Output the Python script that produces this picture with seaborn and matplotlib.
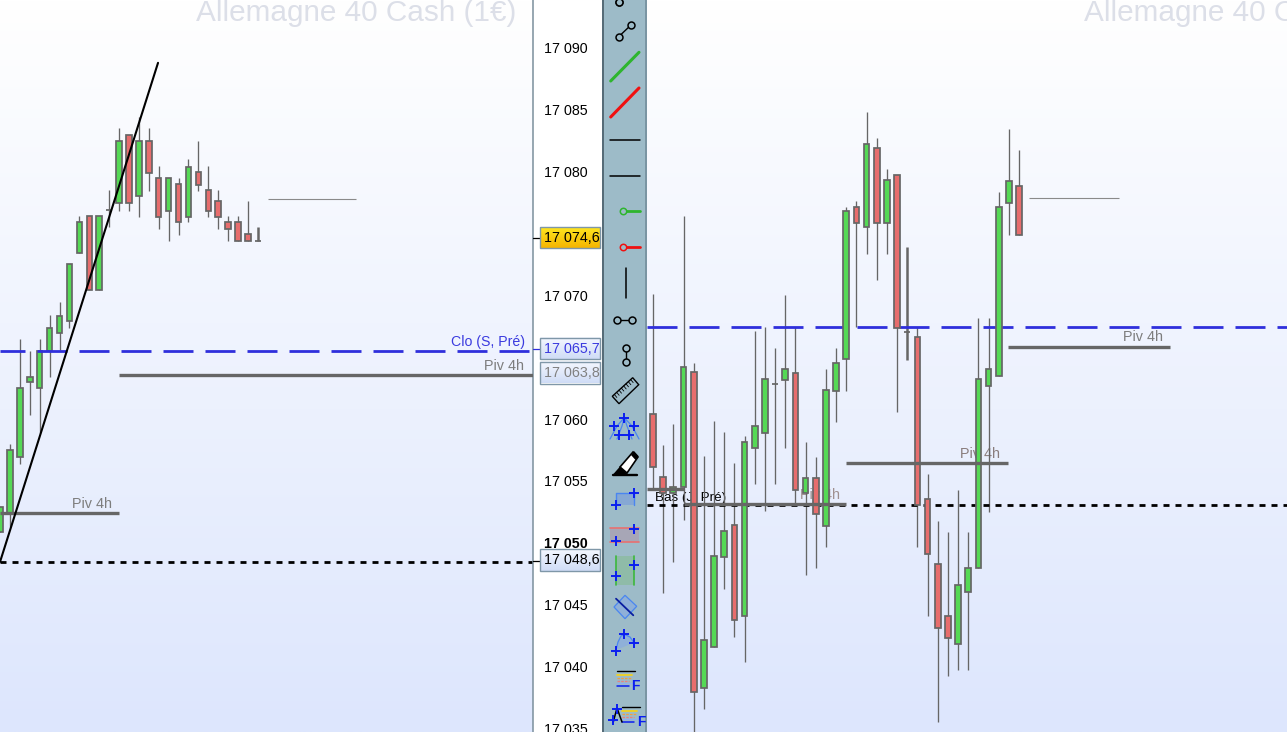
import numpy as np
import pandas as pd
import matplotlib
matplotlib.use('Agg')
import matplotlib.pyplot as plt
from matplotlib.colors import LinearSegmentedColormap
from matplotlib.patches import Polygon, Rectangle
import seaborn as sns

# left chart candles
left_open = [17050.9, 17052.4, 17056.9, 17063.0, 17062.5, 17065.5, 17067.0, 17067.9, 17073.4,
             17076.4, 17070.4, 17076.9, 17077.5, 17083.0, 17078.0, 17082.5, 17079.5, 17076.8,
             17079.0, 17076.3, 17080.0, 17078.5, 17077.6, 17075.9, 17075.9, 17075.0, 17074.4]
left_close = [17052.9, 17057.5, 17062.5, 17063.4, 17065.5, 17067.4, 17068.3, 17072.5, 17075.9,
              17070.4, 17076.4, 17076.9, 17082.5, 17077.5, 17082.5, 17079.9, 17076.3, 17079.5,
              17075.9, 17080.4, 17078.9, 17076.8, 17076.3, 17075.4, 17074.4, 17074.4, 17074.4]
left_high = [17052.9, 17058.0, 17066.5, 17065.5, 17066.5, 17068.4, 17069.5, 17072.5, 17076.4,
             17076.4, 17076.4, 17078.5, 17083.5, 17083.0, 17084.4, 17083.5, 17080.5, 17079.5,
             17079.5, 17081.0, 17082.5, 17080.5, 17078.5, 17076.4, 17076.4, 17077.6, 17075.5]
left_low = [17050.9, 17051.3, 17056.4, 17060.3, 17058.9, 17063.4, 17065.6, 17067.4, 17073.4,
            17070.4, 17070.4, 17075.5, 17076.8, 17076.8, 17076.3, 17078.4, 17075.4, 17074.4,
            17074.9, 17075.9, 17078.4, 17076.3, 17075.4, 17074.4, 17074.4, 17074.4, 17074.4]

# right chart candles
right_open = [17057.3, 17051.3, 17049.7, 17050.3, 17061.4, 17031.0, 17034.9, 17043.6, 17046.7,
              17037.9, 17054.1, 17055.5, 17060.2, 17060.6, 17061.3, 17049.7, 17051.2, 17046.6,
              17059.5, 17062.6, 17077.2, 17075.3, 17082.9, 17075.7, 17080.3, 17065.2, 17064.7,
              17049.2, 17042.9, 17037.9, 17035.2, 17040.2, 17042.5, 17060.0, 17061.0, 17077.6,
              17079.3]
right_close = [17052.2, 17049.7, 17050.3, 17061.9, 17030.6, 17035.6, 17043.7, 17046.1, 17037.5,
               17054.6, 17056.2, 17060.7, 17060.2, 17061.7, 17050.0, 17051.2, 17047.7, 17059.6,
               17062.2, 17076.9, 17075.7, 17083.3, 17075.7, 17079.8, 17065.6, 17065.2, 17048.6,
               17043.9, 17036.8, 17035.8, 17040.9, 17042.5, 17060.7, 17061.7, 17077.2, 17079.7,
               17074.5]
right_high = [17068.9, 17054.4, 17056.4, 17076.4, 17062.2, 17053.3, 17056.7, 17055.6, 17052.6,
              17055.2, 17065.3, 17065.7, 17063.7, 17068.8, 17065.7, 17054.6, 17053.2, 17061.7,
              17063.7, 17077.2, 17077.8, 17086.4, 17083.9, 17080.9, 17080.3, 17073.4, 17065.7,
              17051.6, 17047.0, 17046.0, 17050.0, 17046.0, 17066.6, 17066.6, 17078.7, 17084.7,
              17082.7]
right_low = [17050.2, 17040.1, 17043.1, 17047.1, 17026.5, 17029.0, 17034.9, 17040.5, 17035.9,
             17033.5, 17050.6, 17048.0, 17050.6, 17054.1, 17048.8, 17041.9, 17042.5, 17044.5,
             17056.6, 17059.5, 17065.7, 17072.7, 17070.2, 17072.7, 17057.5, 17062.5, 17044.5,
             17037.9, 17027.7, 17032.1, 17032.7, 17032.7, 17042.5, 17047.9, 17061.0, 17074.5,
             17074.5]

# price levels: (start bar, end bar, price)
left_piv = [(0, 12, 17052.4), (12, 53.7, 17063.6)]
left_ref = (27.0, 35.9, 17077.8)
left_clo = 17065.5
left_bas = 17048.45
left_trend_x = [0, 15.93]
left_trend_y = [17048.45, 17088.8]

right_piv = [(-0.6, 3.05, 17050.1), (3.05, 18.98, 17048.7), (18.98, 34.9, 17052.6), (34.9, 50.84, 17063.8)]
right_ref = (36.97, 45.82, 17078.1)
right_clo = 17065.7
right_bas = 17048.6

tick_prices = [17035, 17040, 17045, 17050, 17055, 17060, 17065, 17070, 17075, 17080, 17085, 17090]
tick_labels = ['17 035', '17 040', '17 045', '17 050', '17 055', '17 060', '', '17 070', '', '17 080', '17 085', '17 090']

W, H = 1287, 732
GREEN, RED, EDGE = '#55d955', '#e76d6d', '#666666'
BLUE, LEVEL = '#2f2fdc', '#666666'

sns.set_theme(style='white')
plt.rcParams['font.family'] = ['Liberation Sans', 'DejaVu Sans']

fig = plt.figure(figsize=(W / 100, H / 100), dpi=100, facecolor='white')
bg_cmap = LinearSegmentedColormap.from_list('bg', ['#ffffff', '#dde6fd'])
grad = np.linspace(0, 1, 256)[:, None]


def panel(x0, x1):
    ax = fig.add_axes([x0 / W, 0, (x1 - x0) / W, 1])
    ax.imshow(grad, cmap=bg_cmap, aspect='auto', extent=(0, 1, 0, 1), transform=ax.transAxes, zorder=0)
    return ax


def hline(ax, x0, x1, y, color=LEVEL, lw=2.4, z=4, ls='-'):
    sns.lineplot(x=[x0, x1], y=[y, y], ax=ax, color=color, lw=lw, zorder=z, linestyle=ls,
                 estimator=None, solid_capstyle='butt', dash_capstyle='butt')


def candles(ax, o, c, h, l, thick=()):
    o, c, h, l = map(np.array, (o, c, h, l))
    idx = np.arange(len(o))
    thin = [i for i in idx if i not in thick]
    for bars, lw in ((thin, 0.95), (list(thick), 1.8)):
        if not bars:
            continue
        wicks = pd.DataFrame({'bar': bars + bars, 'price': np.r_[l[bars], h[bars]]})
        sns.lineplot(data=wicks, x='bar', y='price', units='bar', estimator=None, sort=False,
                     color=EDGE, lw=lw, zorder=2, solid_capstyle='butt', ax=ax)
    colors = [RED if close < op else GREEN for op, close in zip(o, c)]
    ax.bar(idx, c - o, bottom=o, width=0.56, color=colors, edgecolor=EDGE, linewidth=1.25, zorder=3)


# left chart
ax = panel(0, 532.5)
candles(ax, left_open, left_close, left_high, left_low, thick=(26,))
for x0, x1, y in left_piv:
    hline(ax, x0, x1, y)
hline(ax, *left_ref, color='#8a8a8a', lw=0.8)
hline(ax, 0, 53.7, left_clo, color=BLUE, lw=2.0, z=5, ls=(1.8, (10.8, 4.32)))
hline(ax, 0, 53.7, left_bas, color='black', lw=2.0, z=2.5, ls=(0, (2.16, 2.16)))
sns.lineplot(x=left_trend_x, y=left_trend_y, ax=ax, color='black', lw=1.5, zorder=6, estimator=None)
ax.text(52.8, 17064.3, 'Piv 4h', ha='right', va='center', fontsize=10.4, color='#7d7d7d', zorder=1)
ax.text(52.9, 17066.2, 'Clo (S, Pré)', ha='right', va='center', fontsize=10.2, color='#3a3adf', zorder=1)
ax.text(11.3, 17053.1, 'Piv 4h', ha='right', va='center', fontsize=10.4, color='#7d7d7d', zorder=1)
ax.set_xlim(0, 53.68)
ax.set_ylim(17090 - 684 / 12.37, 17090 + 48 / 12.37)
ax.set_xticks([])
ax.set_xlabel('')
ax.set_ylabel('')
ax.yaxis.tick_right()
ax.set_yticks(tick_prices)
ax.set_yticklabels(tick_labels)
ax.tick_params(axis='y', length=3.8, width=0.8, color='#7b8f9c', pad=4.5, labelsize=10.3, labelcolor='black')
for lab in ax.get_yticklabels():
    if lab.get_text() == '17 050':
        lab.set_fontweight('bold')
sns.despine(ax=ax, left=True, bottom=True, top=True, right=False)
ax.spines['right'].set_color('#7b8f9c')
ax.spines['right'].set_linewidth(1.1)

# right chart
ax2 = panel(647, W)
candles(ax2, right_open, right_close, right_high, right_low, thick=(25,))
for x0, x1, y in right_piv:
    hline(ax2, x0, x1, y)
hline(ax2, *right_ref, color='#8a8a8a', lw=0.8)
hline(ax2, -0.6, 62.4, right_clo, color=BLUE, lw=2.0, z=2.5, ls=(0, (10.8, 4.32)))
hline(ax2, -0.6, 62.4, right_bas, color='black', lw=2.0, z=2.5, ls=(0, (2.16, 2.16)))
ax2.text(50.15, 17064.7, 'Piv 4h', ha='right', va='center', fontsize=10.4, color='#7d7d7d', zorder=1)
ax2.text(34.1, 17053.5, 'Piv 4h', ha='right', va='center', fontsize=10.4, color='#8a7d7d', zorder=1)
ax2.text(18.4, 17049.5, 'Piv 4h', ha='right', va='center', fontsize=10.4, color='#a09090', zorder=1)
ax2.text(0.2, 17049.3, 'Bas (J. Pré)', ha='left', va='center', fontsize=9.6, color='black', zorder=1)
ax2.set_xlim(-0.59, 62.34)
ax2.set_ylim(17065.7 - 405 / 10.4, 17065.7 + 327 / 10.4)
ax2.axis('off')

# overlay in pixels: titles, value boxes and the drawing toolbar
ov = fig.add_axes([0, 0, 1, 1], facecolor='none')
ov.axis('off')
ov.text(516, 21, 'Allemagne 40 Cash (1€)', ha='right', va='baseline', fontsize=21.4, color='#dcdfe8')
ov.text(1084, 21, 'Allemagne 40 Cash (1€)', ha='left', va='baseline', fontsize=21.4, color='#dcdfe8', clip_on=True)


def value_box(y0, y1, top, bottom, label, color):
    cm = LinearSegmentedColormap.from_list('b', [top, bottom])
    ov.imshow(grad, cmap=cm, aspect='auto', extent=(540, 600, y1, y0), zorder=3)
    ov.add_patch(Rectangle((540, y0), 60, y1 - y0, fill=False, ec='#7f97a8', lw=1.0, zorder=4))
    ov.text(543.5, (y0 + y1) / 2 + 0.5, label, ha='left', va='center', fontsize=10.3, color=color, zorder=5)


value_box(227, 248, '#ffe620', '#f5b400', '17 074,6', 'black')
value_box(337.5, 359, '#f5f8ff', '#cfdcf6', '17 065,7', '#3a3adf')
value_box(362, 383.5, '#f5f8ff', '#cfdcf6', '17 063,8', '#808080')
value_box(549, 571, '#f5f8ff', '#cfdcf6', '17 048,6', 'black')
ov.plot([533, 540], [238, 238], color='black', lw=0.9)
ov.plot([533, 540], [349, 349], color=BLUE, lw=0.9)
ov.plot([533, 540], [561, 561], color='black', lw=0.9)

# toolbar
ov.add_patch(Rectangle((602, 0), 45, H, fc='#9dbbc8', ec='none', zorder=3))
ov.add_patch(Rectangle((602, 0), 2, H, fc='#566c78', ec='none', zorder=3))
ov.add_patch(Rectangle((645, 0), 2, H, fc='#7a95a3', ec='none', zorder=3))


def seg(xs, ys, color='black', lw=1.1, **kw):
    ov.plot(xs, ys, color=color, lw=lw, zorder=6, solid_capstyle='round', **kw)


def ring_line(x0, y0, x1, y1):
    seg([x0, x1], [y0, y1], lw=1.0)
    ov.plot([x0, x1], [y0, y1], ls='none', marker='o', ms=5, mfc='#9dbbc8', mec='black', mew=1.1, zorder=7)


def crosses(pts, color='#0a1ef0'):
    ov.plot(*zip(*pts), ls='none', marker='+', ms=6.5, mew=1.4, color=color, zorder=8)


def band(x0, x1, y0, y1, fill):
    ov.add_patch(Rectangle((x0, y0), x1 - x0, y1 - y0, fc=fill, ec='none', zorder=5))


ring_line(618.7, 1.7, 618.7, 1.7)
ring_line(618.7, 36.7, 631, 25)
seg([610.7, 639], [81, 52.3], color='#2eb52e', lw=2.2)
seg([610.7, 639], [117, 88], color='#f01010', lw=2.2)
seg([610, 640], [139.7, 139.7], lw=1.1)
seg([610, 640], [175.7, 175.7], lw=1.1)
seg([622.7, 640], [210.7, 210.7], color='#2eb52e', lw=2.0)
ov.plot(622.7, 210.7, marker='o', ms=4.6, mfc='#9dbbc8', mec='#2eb52e', mew=1.1, zorder=7)
seg([622.7, 640], [246.7, 246.7], color='#f01010', lw=2.0)
ov.plot(622.7, 246.7, marker='o', ms=4.6, mfc='#9dbbc8', mec='#f01010', mew=1.1, zorder=7)
seg([625.7, 625.7], [268, 297.7], lw=1.1)
ring_line(617.3, 319.7, 632.3, 319.7)
ring_line(625.7, 347.7, 625.7, 362.3)

# ruler
ov.add_patch(Polygon([(612.3, 396.3), (632.7, 377.7), (638.7, 384.7), (619, 403.7)], fill=False, ec='black', lw=1.0, zorder=6))
for t in np.linspace(0.1, 0.9, 8):
    px, py = 612.3 + 20.4 * t, 396.3 - 18.6 * t
    seg([px, px + 2.5], [py, py + 3], lw=0.6)

# fan
seg([610, 617, 624.3, 632, 639], [439, 426, 417.7, 426, 439], color='#4a86f0', lw=0.9)
seg([617, 622, 624.3, 627, 632], [439, 426, 417.7, 426, 439], color='#4a86f0', lw=0.9)
crosses([(624.3, 417.7), (614.3, 426), (634.3, 426), (619, 434.7), (629.3, 434.7)])

# pencil
ov.add_patch(Polygon([(620, 467), (633, 452), (638, 457), (627, 473)], fc='white', ec='black', lw=1.2, zorder=6))
ov.add_patch(Polygon([(631, 455), (634, 451), (638.5, 456), (635.5, 460)], fc='black', ec='none', zorder=7))
ov.add_patch(Polygon([(613, 474.5), (620, 466.5), (628, 474.5)], fc='black', ec='none', zorder=7))
seg([613, 637.3], [474.7, 474.7], lw=1.7)

# rectangle
band(616, 634.3, 492.7, 505.3, '#86a8d4')
seg([616, 616, 634.3, 634.3], [505.3, 492.7, 492.7, 505.3], color='#4a86f0', lw=1.0)
crosses([(634, 492.7), (616, 505.3)])

# horizontal band
band(610, 639.3, 528, 542, '#a7a6b6')
seg([610, 639.3], [528, 528], color='#e87070', lw=1.2)
seg([610, 639.3], [542, 542], color='#e87070', lw=1.2)
crosses([(634, 528.7), (616, 541.3)])

# vertical band
band(616, 634.3, 556, 585.3, '#8fbba8')
seg([616, 616], [556, 585.3], color='#3cb83c', lw=1.2)
seg([634.3, 634.3], [556, 585.3], color='#3cb83c', lw=1.2)
crosses([(634, 564.7), (616, 576)])

# rotated rectangle
ov.add_patch(Polygon([(614, 607), (625, 595.3), (636.7, 606.3), (625, 618.7)], fc='#8fb0d8', ec='#4a86f0', lw=0.9, zorder=6))
seg([616, 633.3], [598.7, 615.3], color='#0a1ea0', lw=1.3)

# arc
ov.add_patch(Polygon([(616, 650), (618, 642), (621, 636), (624.3, 634.3), (630, 637), (634, 642.7)], fc='#8fb0d8', ec='none', zorder=5))
seg([616, 618, 621, 624.3, 630, 634], [650, 642, 636, 634.3, 637, 642.7], color='#4a86f0', lw=0.9)
crosses([(624.3, 634.3), (634, 642.7), (616, 650.7)])

# fibonacci icons
for top, x0, x1 in ((671.3, 617, 634.5), (707, 622, 640)):
    seg([x0, x1], [top, top], lw=1.0)
    seg([x0, x1 - 3], [top + 4, top + 4], color='#f2d21e', lw=1.3)
    seg([x0, x1 - 3], [top + 7, top + 7], color='#f0a040', lw=0.9, ls=(0, (2, 1)))
    seg([x0, x1 - 6], [top + 10, top + 10], color='#e88080', lw=0.9, ls=(0, (2, 1)))
    seg([x0, x1 - 3], [top + 12, top + 12], color='#8fb0f0', lw=0.8)
    seg([x0, x1 - 6], [top + 15, top + 15], color='#0a1ef0', lw=1.1)
    ov.text(x1 + 1, top + 15, 'F', ha='center', va='center', fontsize=10, fontweight='bold', color='#0a1ef0', zorder=8)
seg([613, 617, 622], [723, 708, 722], lw=1.1)
crosses([(616.7, 708.7), (613.3, 720)])

ov.set_xlim(0, W)
ov.set_ylim(H, 0)

fig.savefig('out.png', dpi=100, facecolor='white')
